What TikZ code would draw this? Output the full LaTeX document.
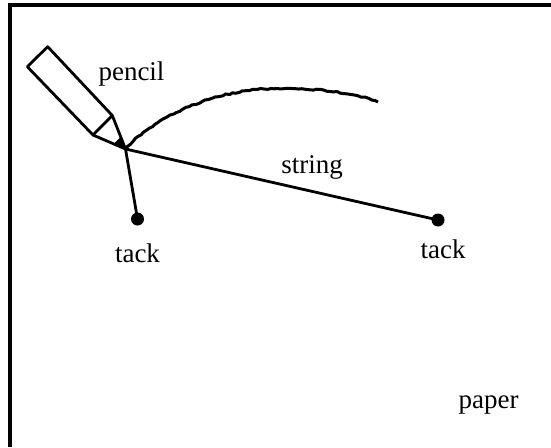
\documentclass[tikz,border=0pt]{standalone}
\usepackage{fontspec}
\setmainfont{Liberation Serif}
\usetikzlibrary{decorations.pathmorphing,calc}
\begin{document}
\begin{tikzpicture}[x=1pt,y=-1pt,
  ink/.style={line width=2.8pt,line join=round},
  label/.style={font=\fontsize{27}{30}\selectfont,anchor=base,inner sep=0pt},
  tackpin/.style={circle,fill=black,inner sep=0pt,minimum size=13pt},
  trace/.style={line width=3pt,decorate,
    decoration={random steps,segment length=3.5pt,amplitude=0.7pt}}]
\useasboundingbox (0,0) rectangle (551,447);
\pgfmathsetseed{7}

% sheet of paper (top and left edges)
\draw[line width=3.2pt] (10,447) -- (10,5) -- (551,5);

% pencil tip and tacks
\coordinate (tip) at (125.5,149);
\node[tackpin] (tackA) at (137.5,219) {};
\node[tackpin] (tackB) at (438,220) {};

% pencil body, cone and graphite point
\coordinate (pA) at (47.7,46.7);
\coordinate (pB) at (27.3,66.7);
\coordinate (pC) at (93,135);
\coordinate (pD) at (112.3,115.5);
\fill (tip) -- ($(tip)!0.36!(pC)$) -- ($(tip)!0.36!(pD)$) -- cycle;
\draw[ink] (pA) -- (pB) -- (pC) -- (pD) -- cycle;
\draw[ink] (pC) -- (tip) -- (pD);

% strings from the pencil to the tacks
\draw[ink] (tip) -- (tackA.center);
\draw[ink] (tip) -- (tackB.center);

% traced arc
\coordinate (arcEnd) at (378,102);
\draw[trace] (tip) .. controls (150,122) and (200,95) .. (257,89.5)
  .. controls (300,86) and (350,91) .. (arcEnd);

% labels
\node[label] (lpencil) at (131.5,80) {pencil};
\node[label] (lstring) at (312,173) {string};
\node[label] (ltackA) at (137.5,262) {tack};
\node[label] (ltackB) at (443,258) {tack};
\node[label] (lpaper) at (488.5,408) {paper};
\end{tikzpicture}
\end{document}
